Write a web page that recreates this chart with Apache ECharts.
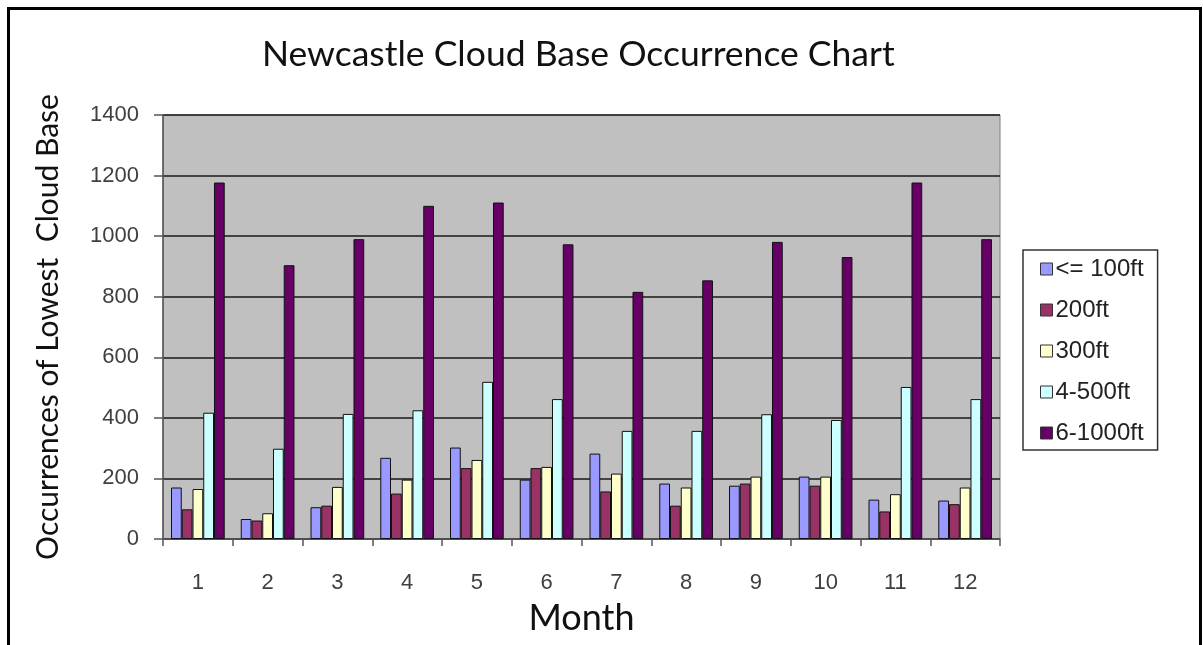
<!DOCTYPE html>
<html>
<head>
<meta charset="utf-8">
<script src="https://cdn.jsdelivr.net/npm/echarts@6/dist/echarts.min.js"></script>
<style>
  html, body { margin: 0; padding: 0; background: #fff; }
  #chart { width: 1203px; height: 645px; }
</style>
</head>
<body>
<div id="chart"></div>
<script>
// Monthly counts of the lowest cloud base at Newcastle, by height band
const months = ['1', '2', '3', '4', '5', '6', '7', '8', '9', '10', '11', '12'];
const bandNames = ['<= 100ft', '200ft', '300ft', '4-500ft', '6-1000ft'];
const upTo100ft = [170, 66, 105, 268, 302, 196, 282, 183, 176, 206, 130, 127];
const ft200 = [98, 61, 110, 150, 234, 234, 157, 110, 183, 176, 91, 115];
const ft300 = [165, 85, 172, 196, 261, 238, 216, 170, 206, 206, 148, 170];
const ft400to500 = [417, 298, 413, 425, 519, 462, 357, 357, 412, 393, 502, 462];
const ft600to1000 = [1177, 904, 990, 1100, 1111, 973, 816, 854, 981, 931, 1177, 990];
const yTicks = { min: 0, max: 1400, step: 200 };

const bandValues = [upTo100ft, ft200, ft300, ft400to500, ft600to1000];
const bandColors = ['#9999ff', '#993366', '#ffffcc', '#ccffff', '#660066'];

const chart = echarts.init(document.getElementById('chart'), null, { renderer: 'canvas' });

const sansLabel = '"Liberation Sans", Arial, sans-serif';
const headingFont = 'Lato, "Open Sans", sans-serif';

chart.setOption({
  backgroundColor: '#ffffff',
  animation: false,
  title: {
    text: 'Newcastle Cloud Base Occurrence Chart',
    left: 262,
    top: 37,
    padding: 0,
    textStyle: { fontFamily: headingFont, fontSize: 35.5, fontWeight: 'normal', color: '#111' }
  },
  graphic: [{
    type: 'rect',
    shape: { x: 8.5, y: 8.5, width: 1192, height: 700 },
    style: { fill: 'none', stroke: '#000', lineWidth: 3 },
    silent: true
  }],
  legend: {
    orient: 'vertical',
    left: 1023,
    top: 250,
    padding: [7, 14, 5, 17],
    itemGap: 17,
    itemWidth: 12,
    itemHeight: 12,
    icon: 'rect',
    borderColor: '#333',
    borderWidth: 1.5,
    backgroundColor: '#fff',
    textStyle: { fontFamily: sansLabel, fontSize: 24, lineHeight: 24, color: '#222', padding: [0, 0, 0, -2] },
    itemStyle: { borderColor: '#333', borderWidth: 1 },
    data: bandNames
  },
  grid: {
    left: 163,
    right: 203,
    top: 115,
    bottom: 106,
    show: true,
    backgroundColor: '#c0c0c0',
    borderColor: '#808080',
    borderWidth: 1
  },
  xAxis: {
    type: 'category',
    data: months,
    name: 'Month',
    nameLocation: 'middle',
    nameGap: 61,
    nameTextStyle: { fontFamily: headingFont, fontSize: 36, color: '#111' },
    axisLine: { show: true, lineStyle: { color: '#555', width: 1.5 } },
    axisTick: { show: true, length: 7, lineStyle: { color: '#555', width: 1.5 } },
    axisLabel: { fontFamily: sansLabel, fontSize: 22, color: '#404040', margin: 33 }
  },
  yAxis: {
    type: 'value',
    min: yTicks.min,
    max: yTicks.max,
    interval: yTicks.step,
    name: 'Occurrences of Lowest  Cloud Base',
    nameLocation: 'middle',
    nameGap: 100,
    nameTextStyle: { fontFamily: headingFont, fontSize: 30, color: '#111' },
    axisLine: { show: true, lineStyle: { color: '#555', width: 1.5 } },
    axisTick: { show: true, length: 9, lineStyle: { color: '#555', width: 1.5 } },
    axisLabel: {
      fontFamily: sansLabel, fontSize: 22, color: '#404040', margin: 24,
      formatter: (v) => String(v)
    },
    splitLine: { show: true, lineStyle: { color: '#1a1a1a', width: 1.5 } }
  },
  series: bandNames.map((name, i) => ({
    name: name,
    type: 'bar',
    data: bandValues[i],
    barGap: '0%',
    barCategoryGap: '23%',
    itemStyle: { color: bandColors[i], borderColor: '#111', borderWidth: 1 }
  }))
});
</script>
</body>
</html>
